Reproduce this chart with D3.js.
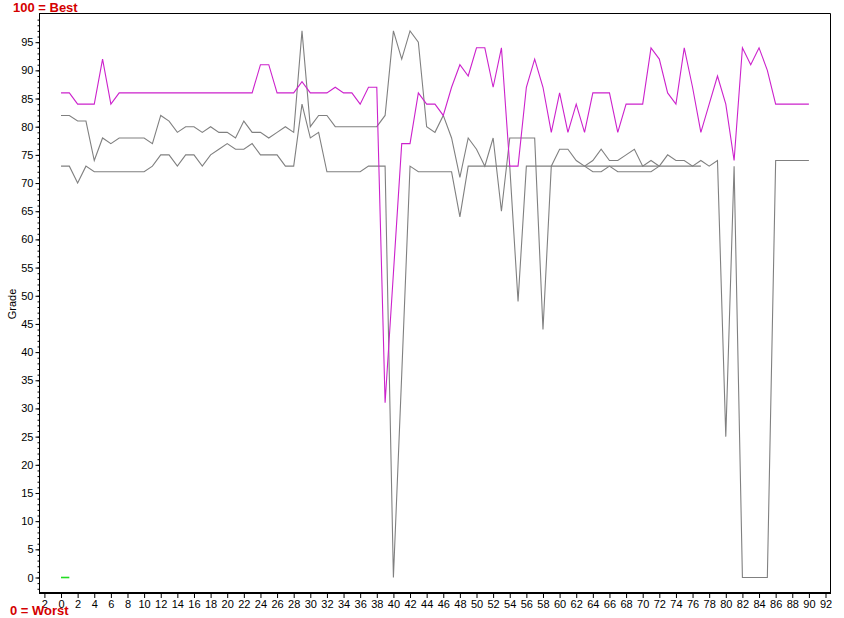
<!DOCTYPE html>
<html><head><meta charset="utf-8">
<script src="https://cdn.jsdelivr.net/npm/d3@7"></script>
<style>
body{margin:0;background:#fff}
svg{display:block}
text{font-family:"Liberation Sans",Arial,sans-serif}
</style>
</head><body><svg id="c" width="844" height="618"></svg>
<script>
// ---- data ----
const xValues = d3.range(0, 91);
const magentaSeries = [
  86,86,84,84,84,92,84,86,86,86,
  86,86,86,86,86,86,86,86,86,86,
  86,86,86,86,91,91,86,86,86,88,
  86,86,86,87,86,86,84,87,87,31,
  54,77,77,86,84,84,82,87,91,89,
  94,94,87,94,73,73,87,92,87,79,
  86,79,84,79,86,86,86,79,84,84,
  84,94,92,86,84,94,87,79,84,89,
  84,74,94,91,94,90,84,84,84,84,
  84];
const grayUpper = [
  82,82,81,81,74,78,77,78,78,78,
  78,77,82,81,79,80,80,79,80,79,
  79,78,81,79,79,78,79,80,79,97,
  80,82,82,80,80,80,80,80,80,82,
  97,92,97,95,80,79,82,78,71,78,
  76,73,78,65,78,78,78,78,44,73,
  76,76,74,73,74,76,74,74,75,76,
  73,74,73,75,74,74,73,74,73,74,
  25,73,0,0,0,0,74,74,74,74,
  74];
const grayLower = [
  73,73,70,73,72,72,72,72,72,72,
  72,73,75,75,73,75,75,73,75,76,
  77,76,76,77,75,75,75,73,73,84,
  78,79,72,72,72,72,72,73,73,73,
  0,36,73,72,72,72,72,72,64,73,
  73,73,73,73,73,49,73,73,73,73,
  73,73,73,73,73,73,73,73,73,73,
  73,73,73,73,73,73,73,73,null,null,
  null,null,null,null,null,null,null,null,null,null,
  null];
const grayThird = [
  null,null,null,null,null,null,null,null,null,null,
  null,null,null,null,null,null,null,null,null,null,
  null,null,null,null,null,null,null,null,null,null,
  null,null,null,null,null,null,null,null,null,null,
  null,null,null,null,null,null,null,null,null,null,
  null,null,null,null,null,null,null,null,null,null,
  null,null,null,73,72,72,73,72,72,72,
  72,72,73,null,null,null,null,null,null,null,
  null,null,null,null,null,null,null,null,null,null,
  null];
const greenX = [0, 1];
const greenSeries = [0, 0];
const xTickValues = d3.range(-2, 93, 2);
const yMajorTicks = d3.range(0, 100, 5);
const yMinorTicks = d3.range(-2, 100, 1);
const yTitle = "Grade";
const topNote = "100 = Best";
const bottomNote = "0 = Worst";

// ---- drawing ----
const svg = d3.select('#c');
svg.append('rect').attr('width', 844).attr('height', 618).attr('fill', '#fff');

const x = d3.scaleLinear().domain([-2.65, 92.54]).range([39, 830]);
const y = d3.scaleLinear().domain([-2.75, 100]).range([593, 14]);

// frame top/right
svg.append('line').attr('x1', 39).attr('x2', 830.5).attr('y1', 13.5).attr('y2', 13.5).attr('stroke', '#000');
svg.append('line').attr('x1', 830.5).attr('x2', 830.5).attr('y1', 13.5).attr('y2', 593).attr('stroke', '#000');

// left axis: minor ticks
const yMinor = svg.append('g').attr('transform', 'translate(39.5,0)')
  .call(d3.axisLeft(y).tickValues(yMinorTicks).tickSize(2).tickFormat(''));
yMinor.select('.domain').remove();
yMinor.selectAll('line').attr('stroke', '#000');
// left axis: major ticks + labels
const yAx = svg.append('g').attr('transform', 'translate(39.5,0)')
  .call(d3.axisLeft(y).tickValues(yMajorTicks).tickSize(4).tickPadding(2));
yAx.select('.domain').attr('d', `M0,${13.5}V593`).attr('stroke', '#000');
yAx.selectAll('text').attr('font-size', 11).attr('fill', '#000').style('font-family', '"Liberation Sans",Arial,sans-serif');
yAx.selectAll('line').attr('stroke', '#000');

// bottom axis
const xAx = svg.append('g').attr('transform', 'translate(0,593)')
  .call(d3.axisBottom(x).tickValues(xTickValues).tickSize(5).tickPadding(2).tickFormat(d => String(Math.abs(d))));
xAx.select('.domain').attr('d', 'M39,0H831').attr('stroke', '#000').attr('stroke-width', 2);
xAx.selectAll('text').attr('font-size', 11).attr('fill', '#000').style('font-family', '"Liberation Sans",Arial,sans-serif');
xAx.selectAll('line').attr('stroke', '#000');

// y title
svg.append('text').attr('transform', 'translate(16,304) rotate(-90)')
  .attr('text-anchor', 'middle').attr('font-size', 11).attr('fill', '#000').text(yTitle);

// lines
const line = d3.line().defined(d => d[1] !== null).x(d => x(d[0])).y(d => y(d[1]));
function draw(vals, xs, color, w) {
  svg.append('path').datum(xs.map((xv, i) => [xv, vals[i]]))
    .attr('d', line).attr('fill', 'none').attr('stroke', color).attr('stroke-width', w);
}
draw(grayLower, xValues, '#808080', 1.1);
draw(grayThird, xValues, '#808080', 1.1);
draw(grayUpper, xValues, '#808080', 1.1);
draw(magentaSeries, xValues, '#cc22cc', 1.1);
draw(greenSeries, greenX, '#22dd22', 1.6);

// notes
svg.append('text').attr('x', 13).attr('y', 12).attr('font-size', 13).attr('font-weight', 'bold')
  .attr('fill', '#d40000').text(topNote);
svg.append('text').attr('x', 10).attr('y', 614.5).attr('font-size', 13).attr('font-weight', 'bold')
  .attr('fill', '#d40000').text(bottomNote);
</script>
</body></html>
